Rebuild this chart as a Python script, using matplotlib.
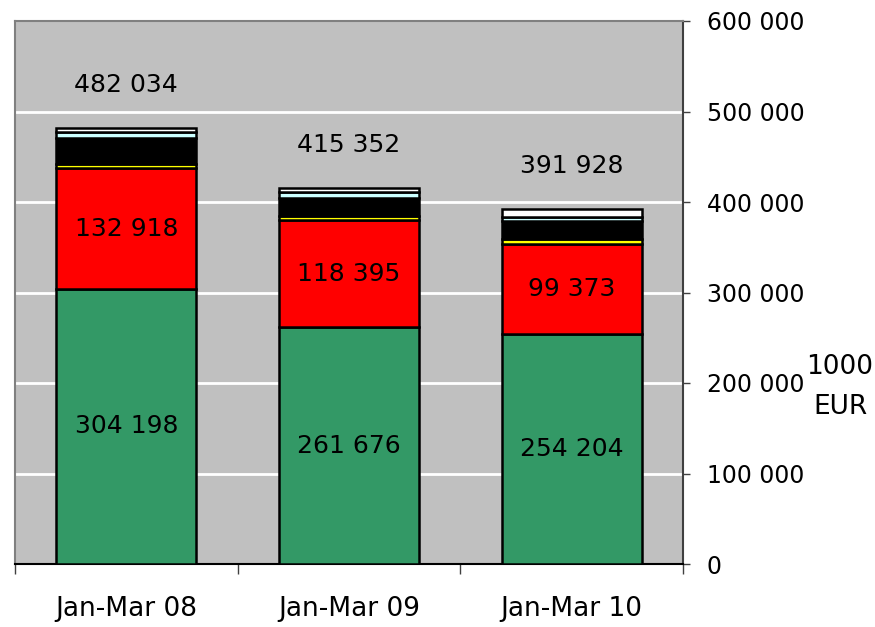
import matplotlib
matplotlib.use("Agg")
import matplotlib.pyplot as plt
import numpy as np

categories = ["Jan-Mar 08", "Jan-Mar 09", "Jan-Mar 10"]
green = [304198, 261676, 254204]
red = [132918, 118395, 99373]
yellow = [5000, 5000, 5000]
black = [28900, 19000, 20000]
cyan = [6500, 6500, 4300]
white = [4518, 4781, 9051]
totals = [482034, 415352, 391928]
yticks = [0, 100000, 200000, 300000, 400000, 500000, 600000]

series = [green, red, yellow, black, cyan, white]
colors = ["#339966", "#FF0000", "#FFFF00", "#000000", "#CCFFFF", "#FFFFFF"]

def fmt(v):
    return f"{v:,}".replace(",", " ")

fig = plt.figure(figsize=(8.75, 6.27), dpi=100)
ax = fig.add_axes([15/875, 63/627, (683-15)/875, (564-21)/627])
ax.set_facecolor("#C0C0C0")

x = np.arange(len(categories))
bottom = np.zeros(len(categories))
for vals, c in zip(series, colors):
    ax.bar(x, vals, bottom=bottom, width=0.63, color=c, edgecolor="black",
           linewidth=1.8, zorder=3)
    bottom += np.array(vals)

for i in range(len(categories)):
    ax.text(x[i], green[i] / 2, fmt(green[i]), ha="center", va="center",
            fontsize=18, zorder=4)
    ax.text(x[i], green[i] + red[i] / 2, fmt(red[i]), ha="center", va="center",
            fontsize=18, zorder=4)
    ax.annotate(fmt(totals[i]), (x[i], totals[i]), xytext=(0, 31),
                textcoords="offset points", ha="center", va="center", fontsize=18)

ax.set_xlim(-0.5, 2.5)
ax.set_ylim(0, 600000)
ax.yaxis.tick_right()
ax.set_yticks(yticks)
ax.set_yticklabels([fmt(v) for v in yticks], fontsize=17)
ax.tick_params(axis="y", direction="out", length=5, width=1, color="#404040", pad=12)
for v in yticks[1:-1]:
    ax.axhline(v, color="white", linewidth=2, zorder=1)

ax.set_xticks([-0.5, 0.5, 1.5, 2.5])
ax.set_xticklabels([])
ax.set_xticks(x, minor=True)
ax.set_xticklabels(categories, minor=True, fontsize=19)
ax.tick_params(axis="x", which="major", direction="out", length=7, width=1, color="#404040")
ax.tick_params(axis="x", which="minor", length=0, pad=23)

ax.spines["left"].set_color("#808080")
ax.spines["top"].set_color("#808080")
ax.spines["left"].set_linewidth(1.5)
ax.spines["top"].set_linewidth(1.5)
ax.spines["right"].set_color("#404040")
ax.spines["right"].set_linewidth(1.5)
ax.spines["bottom"].set_color("black")
ax.spines["bottom"].set_linewidth(1.5)

fig.text(840/875, 1 - 367/627, "1000", ha="center", va="center", fontsize=19)
fig.text(840/875, 1 - 407/627, "EUR", ha="center", va="center", fontsize=19)

fig.savefig("out.png", dpi=100)
